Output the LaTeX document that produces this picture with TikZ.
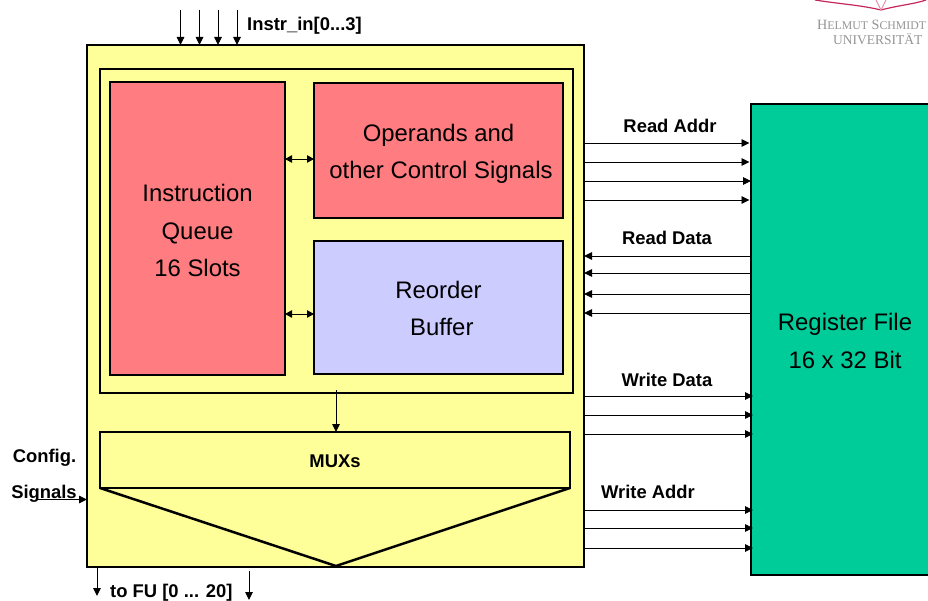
\documentclass[tikz,border=0pt]{standalone}
\usepackage{fontspec}
\setmainfont{Liberation Sans}
\newfontfamily\logofont{Liberation Serif}
\usetikzlibrary{arrows.meta}

\definecolor{unityellow}{RGB}{255,255,153}
\definecolor{queuered}{RGB}{255,124,128}
\definecolor{bufferblue}{RGB}{204,204,255}
\definecolor{regfilegreen}{RGB}{0,204,153}
\definecolor{logored}{RGB}{196,40,90}

\tikzset{
	unitbox/.style={draw=black, line width=2.5pt, anchor=north west, inner sep=0pt, outer sep=0pt},
	boxtext/.style={align=center, inner sep=0pt, font=\fontsize{23.9}{37.5}\selectfont},
	bus/.style={black, line width=0.9pt, -{Triangle[length=8pt,width=7.5pt]}},
	buslabel/.style={font=\fontsize{18.4}{20}\selectfont\bfseries, inner sep=0pt}
}

% box given by left, top, right, bottom
\newcommand{\pbox}[6]{
	\pgfmathsetmacro{\PBw}{#4-#2}
	\pgfmathsetmacro{\PBh}{#5-#3}
	\node[unitbox, fill=#6, minimum width=\PBw pt, minimum height=\PBh pt] (#1) at (#2,#3) {};
}

% horizontal arrows from the unit to the register file
\newcommand{\busout}[3][]{
	\coordinate (#2) at (584,#3);
	\draw[bus,#1] (#2) -- (#2 -| regfile.west);
}
\newcommand{\busin}[2]{
	\coordinate (#1) at (751,#2);
	\draw[bus] (#1) -- (#1 -| unit.east);
}

\begin{document}
\begin{tikzpicture}[x=1pt, y=-1pt]
\useasboundingbox[clip] (0,0) rectangle (928,601);

\pbox{regfile}{751}{104}{960}{575}{regfilegreen}
\pbox{unit}{87}{45}{584}{567}{unityellow}
\pbox{core}{100}{69}{573}{393}{unityellow}
\pbox{queue}{110}{82}{285}{375}{queuered}
\pbox{operands}{314}{83}{563}{218}{queuered}
\pbox{reorder}{314}{241}{563}{374}{bufferblue}
\pbox{mux}{100}{432}{570}{488}{unityellow}
\draw[line width=2.5pt, line join=miter] (mux.south west) -- (336,566) -- (mux.south east);

\node[boxtext] (queuetext) at (197.5,230.5) {Instruction\\Queue\\16 Slots};
\node[boxtext] (operandstext) at (441,154) {\hspace{-5pt}Operands and\\other Control Signals};
\node[boxtext] (reordertext) at (438.5,308.5) {Reorder\\\ Buffer};
\node[buslabel] (muxtext) at (335,461) {MUXs};
\node[boxtext] (regfiletext) at (845,341) {Register File\\16 x 32 Bit};

% between the blocks
\coordinate (qa) at (285,159);
\coordinate (qb) at (285,314);
\draw[line width=0.9pt, {Triangle[length=7pt,width=7.5pt]}-{Triangle[length=7pt,width=7.5pt]}] (qa) -- (qa -| operands.west);
\draw[line width=0.9pt, {Triangle[length=7pt,width=7.5pt]}-{Triangle[length=7pt,width=7.5pt]}] (qb) -- (qb -| reorder.west);
\coordinate (coreout) at (336,390);
\draw[bus] (coreout) -- (coreout |- mux.north);

% top inputs
\foreach \xi/\xn in {180.5/a,199.5/b,218/c,237/d}{
	\coordinate (in\xn) at (\xi,10);
	\draw[bus] (in\xn) -- (in\xn |- unit.north);
}
\node[buslabel, anchor=west] (instrin) at (247,25.5) {Instr\_in[0...3]};

% register file busses
\node[buslabel] (readaddr) at (670,126) {Read Addr};
\busout[shorten >=1.5pt]{raa}{143}
\busout[shorten >=1.5pt]{rab}{162}
\busout{rac}{181}
\busout[shorten >=1.5pt]{rad}{200}
\node[buslabel] (readdata) at (667,238) {Read Data};
\busin{rda}{256}
\busin{rdb}{273}
\busin{rdc}{294}
\busin{rdd}{313}
\node[buslabel] (writedata) at (667,380) {Write Data};
\busout[shorten >=-2pt]{wda}{396}
\busout[shorten >=-2pt]{wdb}{415}
\busout[shorten >=-2pt]{wdc}{434}
\node[buslabel] (writeaddr) at (648,492) {Write Addr};
\busout[shorten >=-2pt]{waa}{510}
\busout[shorten >=-2pt]{wab}{528}
\busout[shorten >=-2pt]{wac}{548}

% left and bottom
\node[buslabel] (config) at (44.5,458) {Config.};
\node[buslabel] (signals) at (44,493.5) {Signals};
\coordinate (cfgin) at (38,499.5);
\draw[bus] (cfgin) -- (cfgin -| unit.west);
\coordinate (fua) at (97,567);
\coordinate (fub) at (249,571);
\coordinate (fuc) at (97,596);
\coordinate (fud) at (249,600);
\draw[bus] (fua) -- (fuc);
\draw[bus] (fub) -- (fud);
\node[buslabel, anchor=west] (tofu) at (110,592.5) {to FU [0 ... 20]};

% logo
\draw[logored, line width=1.2pt] (815,0) .. controls (840,4) and (860,5) .. (881,10) .. controls (900,5) and (915,4) .. (926,0);
\draw[logored!50, line width=1pt] (881,10) -- (876,0);
\draw[logored!50, line width=1pt] (881,10) -- (886,0);
\node[text=black!42, anchor=west, inner sep=0pt, font=\logofont\fontsize{14.2}{16}\selectfont] (logoa) at (817,25) {H{\fontsize{11.8}{16}\selectfont ELMUT} S{\fontsize{11.8}{16}\selectfont CHMIDT}};
\node[text=black!42, anchor=west, inner sep=0pt, font=\logofont\fontsize{13.5}{16}\selectfont] (logob) at (833,39.5) {UNIVERSITÄT};
\end{tikzpicture}
\end{document}
